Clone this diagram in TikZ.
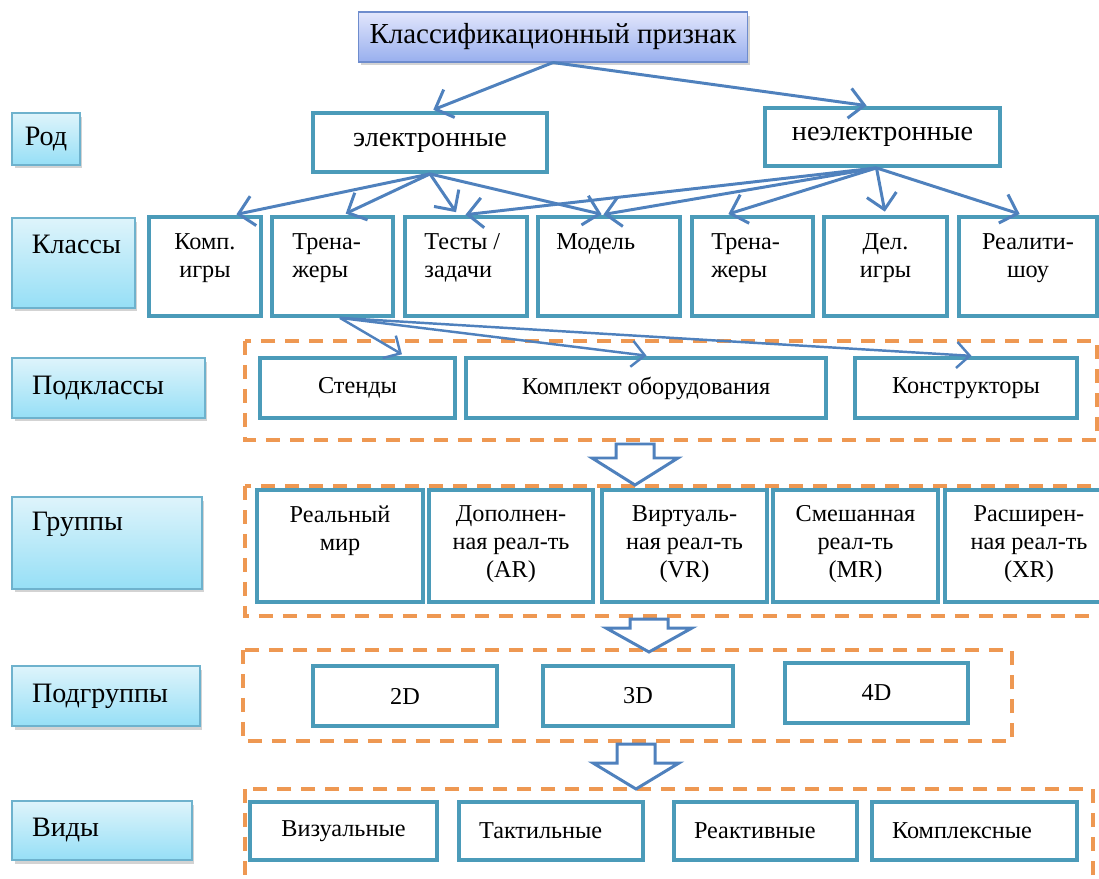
\documentclass[tikz,border=0pt]{standalone}
\usepackage{fontspec}
\setmainfont{Liberation Serif}
\usetikzlibrary{arrows.meta,positioning,shadows}
\definecolor{boxline}{RGB}{75,155,185}
\definecolor{frameorange}{RGB}{238,152,82}
\definecolor{linkblue}{RGB}{79,129,189}
\definecolor{labtop}{RGB}{222,244,251}
\definecolor{labbot}{RGB}{150,223,246}
\definecolor{labline}{RGB}{110,178,205}
\definecolor{roottop}{RGB}{226,230,252}
\definecolor{rootbot}{RGB}{152,175,238}
\definecolor{rootline}{RGB}{110,140,205}

\begin{document}
\begin{tikzpicture}[x=0.02cm,y=-0.02cm,>={Straight Barb[length=0.3cm,width=0.6cm]},
  lab/.style={draw=labline,line width=0.6pt,top color=labtop,bottom color=labbot,
    drop shadow={shadow xshift=0.05cm,shadow yshift=-0.07cm,opacity=0.35},
    font=\fontsize{16}{19}\selectfont,inner sep=0pt},
  labl/.style={lab,align=left,inner xsep=0.4cm},
  labtxt/.style={font=\fontsize{16}{19}\selectfont,inner sep=0pt},
  rootbox/.style={draw=rootline,line width=0.6pt,top color=roottop,bottom color=rootbot,
    drop shadow={shadow xshift=0.05cm,shadow yshift=-0.07cm,opacity=0.35},
    font=\fontsize{16.5}{19}\selectfont},
  kind/.style={draw=boxline,line width=2.2pt,fill=white,font=\fontsize{16}{19}\selectfont},
  cbox/.style={draw=boxline,line width=2.2pt,fill=white,font=\fontsize{13.8}{16}\selectfont},
  cboxl/.style={cbox,align=left,inner xsep=0.4cm},
  ctxt/.style={font=\fontsize{13.8}{16}\selectfont,align=center,inner sep=0pt},
  frame/.style={draw=frameorange,line width=2.2pt,dash pattern=on 0.28cm off 0.2cm},
  link/.style={draw=linkblue,line width=1.7pt,->,shorten >=2pt},
  sublink/.style={link,line width=1.4pt,-{Straight Barb[length=0.26cm,width=0.52cm]}},
  blockarr/.style={draw=linkblue,line width=1.7pt,fill=white,line join=miter}]
\useasboundingbox (0,0) rectangle (1099,879);

% dashed frames
\draw[frame] (245,341) rectangle (1097,440);
\draw[frame] (245,486) rectangle (1114,616);
\draw[frame] (243,650) rectangle (1012,741);
\draw[frame] (245,789) rectangle (1093,900);

% hollow arrows between levels
\foreach \cx/\ty/\hy/\py in {635/444/458/485,649/619/628/652,636/744/763/789}
  \draw[blockarr] (\cx-19,\ty) -- (\cx+19,\ty) -- (\cx+19,\hy) -- (\cx+43,\hy) -- (\cx,\py)
    -- (\cx-43,\hy) -- (\cx-19,\hy) -- cycle;

% root
\node[rootbox,minimum width=7.8cm,minimum height=1.0cm] (root) at (553,37) {Классификационный признак};

% level labels
\node[lab,minimum width=1.36cm,minimum height=1.04cm] (rod) at (46,139) {Род};
\node[lab,minimum width=2.46cm,minimum height=1.8cm] (cls) at (73.5,263) {};
\node[labtxt,anchor=north west] (cls-t) at ([xshift=0.4cm,yshift=-0.34cm]cls.north west) {Классы};
\node[labl,minimum width=3.86cm,minimum height=1.2cm,text width=3.06cm] (subcls) at (108.5,388) {Подклассы};
\node[lab,minimum width=3.8cm,minimum height=1.84cm] (grp) at (107,543) {};
\node[labtxt,anchor=north west] (grp-t) at ([xshift=0.4cm,yshift=-0.3cm]grp.north west) {Группы};
\node[labl,minimum width=3.76cm,minimum height=1.2cm,text width=2.96cm] (subgrp) at (106,696) {Подгруппы};
\node[labl,minimum width=3.6cm,minimum height=1.18cm,text width=2.8cm] (kinds) at (102,830.5) {Виды};

% genus
\node[kind,minimum width=4.68cm,minimum height=1.18cm] (el) at (430,142.5) {электронные};
\node[kind,minimum width=4.7cm,minimum height=1.16cm] (ne) at (882.5,137) {неэлектронные};

% classes
\node[cbox,minimum width=2.24cm,minimum height=1.98cm] (kg) at (205,266.5) {};
\node[cbox,minimum width=2.42cm,minimum height=1.98cm] (tr1) at (332.5,266.5) {};
\node[cbox,minimum width=2.44cm,minimum height=1.98cm] (ts) at (466,266.5) {};
\node[cbox,minimum width=2.84cm,minimum height=1.98cm] (md) at (609,266.5) {};
\node[cbox,minimum width=2.42cm,minimum height=1.98cm] (tr2) at (752.5,266.5) {};
\node[cbox,minimum width=2.46cm,minimum height=1.98cm] (dg) at (885.5,266.5) {};
\node[cbox,minimum width=2.76cm,minimum height=1.98cm] (rs) at (1028,266.5) {};
\node[ctxt,anchor=north] (kg-t) at ([yshift=-0.36cm]kg.north) {Комп.\\игры};
\node[ctxt,anchor=north west,align=left] (tr1-t) at ([xshift=0.44cm,yshift=-0.36cm]tr1.north west) {Трена-\\жеры};
\node[ctxt,anchor=north west,align=left] (ts-t) at ([xshift=0.42cm,yshift=-0.36cm]ts.north west) {Тесты /\\задачи};
\node[ctxt,anchor=north west,align=left] (md-t) at ([xshift=0.4cm,yshift=-0.36cm]md.north west) {Модель};
\node[ctxt,anchor=north west,align=left] (tr2-t) at ([xshift=0.42cm,yshift=-0.36cm]tr2.north west) {Трена-\\жеры};
\node[ctxt,anchor=north] (dg-t) at ([yshift=-0.36cm]dg.north) {Дел.\\игры};
\node[ctxt,anchor=north] (rs-t) at ([yshift=-0.36cm]rs.north) {Реалити-\\шоу};

% subclasses
\node[cbox,minimum width=3.9cm,minimum height=1.2cm] (st) at (357.5,388) {Стенды};
\node[cbox,minimum width=7.2cm,minimum height=1.2cm] (kp) at (646,388) {Комплект оборудования};
\node[cbox,minimum width=4.44cm,minimum height=1.2cm] (ks) at (966,388) {Конструкторы};

% groups
\node[cbox,minimum width=3.32cm,minimum height=2.24cm] (rm) at (340,546) {};
\node[cbox,minimum width=3.28cm,minimum height=2.24cm] (ar) at (511,546) {};
\node[cbox,minimum width=3.3cm,minimum height=2.24cm] (vr) at (684.5,546) {};
\node[cbox,minimum width=3.3cm,minimum height=2.24cm] (mr) at (855.5,546) {};
\node[cbox,minimum width=3.36cm,minimum height=2.24cm] (xr) at (1029,546) {};
\node[ctxt,anchor=north] (rm-t) at ([yshift=-0.34cm]rm.north) {Реальный\\мир};
\node[ctxt,anchor=north] (ar-t) at ([yshift=-0.34cm]ar.north) {Дополнен-\\ная реал-ть\\(AR)};
\node[ctxt,anchor=north] (vr-t) at ([yshift=-0.34cm]vr.north) {Виртуаль-\\ная реал-ть\\(VR)};
\node[ctxt,anchor=north] (mr-t) at ([yshift=-0.34cm]mr.north) {Смешанная\\реал-ть\\(MR)};
\node[ctxt,anchor=north] (xr-t) at ([yshift=-0.34cm]xr.north) {Расширен-\\ная реал-ть\\(XR)};

% subgroups
\node[cbox,minimum width=3.68cm,minimum height=1.2cm] (d2) at (405,696) {2D};
\node[cbox,minimum width=3.8cm,minimum height=1.2cm] (d3) at (638,696) {3D};
\node[cbox,minimum width=3.66cm,minimum height=1.2cm] (d4) at (876.5,693) {4D};

% kinds
\node[cbox,minimum width=3.74cm,minimum height=1.16cm] (vis) at (343.5,831) {Визуальные};
\node[cboxl,minimum width=3.68cm,minimum height=1.16cm,text width=2.88cm] (tak) at (551,831) {Тактильные};
\node[cboxl,minimum width=3.66cm,minimum height=1.16cm,text width=2.86cm] (rea) at (765.5,831) {Реактивные};
\node[cboxl,minimum width=4.1cm,minimum height=1.16cm,text width=3.3cm] (kom) at (974.5,831) {Комплексные};

% connectors
\draw[link] (root.south) -- (el.north);
\draw[link] (root.south) -- ([xshift=-0.25cm]ne.north);
\draw[link] (el.south) -- ([xshift=0.56cm]kg.north);
\draw[link] (el.south) -- ([xshift=0.2cm]tr1.north);
\draw[link] (el.south) -- ([xshift=-0.16cm]ts.north);
\draw[link] (el.south) -- ([xshift=-0.08cm]md.north);
\draw[link] ([xshift=-0.12cm]ne.south) -- ([xshift=-0.08cm]ts.north);
\draw[link] ([xshift=-0.12cm]ne.south) -- ([xshift=-0.18cm]md.north);
\draw[link] ([xshift=-0.12cm]ne.south) -- ([xshift=-0.55cm]tr2.north);
\draw[link] ([xshift=-0.12cm]ne.south) -- (dg.north);
\draw[link] ([xshift=-0.12cm]ne.south) -- ([xshift=-0.1cm]rs.north);
\draw[sublink] ([xshift=0.15cm]tr1.south) -- ([xshift=0.95cm]st.north);
\draw[sublink] ([xshift=0.15cm]tr1.south) -- ([xshift=0.08cm]kp.north);
\draw[sublink] ([xshift=0.15cm]tr1.south) -- ([xshift=0.18cm]ks.north);
\end{tikzpicture}
\end{document}
